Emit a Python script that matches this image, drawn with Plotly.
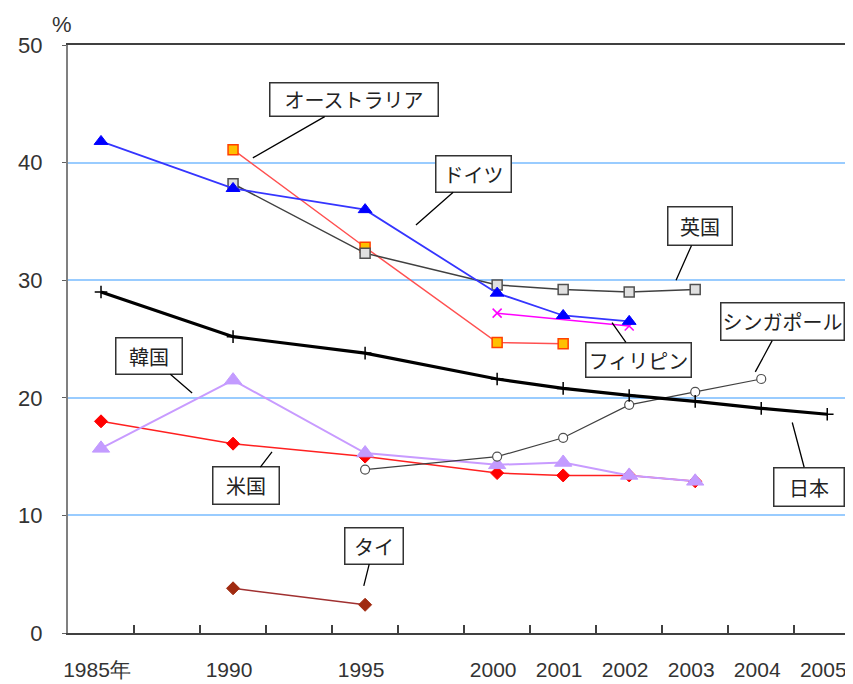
import plotly.graph_objects as go

# Category positions: 1985, (gap), 1990, (gap), 1995, (gap), 2000 .. 2005
tick_pos = [0, 2, 4, 6, 7, 8, 9, 10, 11]
tick_labels = ["1985年", "1990", "1995", "2000", "2001", "2002", "2003", "2004", "2005"]
boundaries = [0.5, 1.5, 2.5, 3.5, 4.5, 5.5, 6.5, 7.5, 8.5, 9.5, 10.5]

germany_x = [0, 2, 4, 6, 7, 8]
germany_y = [41.8, 37.8, 36.0, 28.9, 27.0, 26.5]

uk_x = [2, 4, 6, 7, 8, 9]
uk_y = [38.2, 32.3, 29.6, 29.2, 29.0, 29.2]

australia_x = [2, 4, 6, 7]
australia_y = [41.1, 32.8, 24.7, 24.6]

philippines_x = [6, 8]
philippines_y = [27.2, 26.1]

japan_x = [0, 2, 4, 6, 7, 8, 9, 10, 11]
japan_y = [29.0, 25.2, 23.8, 21.6, 20.8, 20.2, 19.7, 19.1, 18.6]

singapore_x = [4, 6, 7, 8, 9, 10]
singapore_y = [13.9, 15.0, 16.6, 19.4, 20.5, 21.6]

korea_x = [0, 2, 4, 6, 7, 8, 9]
korea_y = [15.7, 21.5, 15.3, 14.3, 14.5, 13.4, 12.9]

usa_x = [0, 2, 4, 6, 7, 8, 9]
usa_y = [18.0, 16.1, 15.0, 13.6, 13.4, 13.4, 12.9]

thai_x = [2, 4]
thai_y = [3.8, 2.4]

fig = go.Figure()

def add(x, y, lcolor, lwidth, symbol, msize, mcolor, mline, mlw=1):
    fig.add_trace(go.Scatter(
        x=x, y=y, mode="lines+markers",
        line=dict(color=lcolor, width=lwidth),
        marker=dict(symbol=symbol, size=msize, color=mcolor,
                    line=dict(color=mline, width=mlw)),
        showlegend=False, hoverinfo="skip"))

add(usa_x, usa_y, "#FF2020", 1.5, "diamond", 10, "#FF0000", "#FF0000")
add(korea_x, korea_y, "#C89BFF", 2, "triangle-up", 15, "#C39BFF", "#C39BFF")
add(singapore_x, singapore_y, "#404040", 1.2, "circle", 9, "#FFFFFF", "#505050", 1.2)
add(japan_x, japan_y, "#000000", 3.2, "cross-thin", 9, "#000000", "#000000", 1.5)
add(philippines_x, philippines_y, "#FF00FF", 1.5, "x-thin", 9, "#FF00FF", "#FF00FF", 1.5)
add(australia_x, australia_y, "#FF5050", 1.5, "square", 10, "#FFC000", "#FF4000", 1.5)
add(uk_x, uk_y, "#404040", 1.5, "square", 10, "#E0E0E0", "#505050", 1.5)
add(germany_x, germany_y, "#3535FF", 1.8, "triangle-up", 12, "#0000FF", "#0000FF")
add(thai_x, thai_y, "#A03030", 1.5, "diamond", 10, "#A02A10", "#A02A10")

# text, tip x, tip y, offset x, offset y, box width, box height
callouts = [
    ("オーストラリア", 2.30, 40.4, 101, -58, 170, 35),
    ("ドイツ", 4.77, 34.7, 58, -51, 77, 38),
    ("英国", 8.71, 30.0, 24, -54, 66, 40),
    ("フィリピン", 7.74, 26.4, 26, 37, 107, 36),
    ("シンガポール", 9.91, 22.2, 27, -50, 125, 39),
    ("韓国", 1.38, 20.4, -43, -37, 68, 38),
    ("米国", 2.59, 15.4, -26, 34, 68, 39),
    ("日本", 10.47, 17.9, 17, 64, 72, 40),
    ("タイ", 3.98, 4.0, 10, -40, 60, 38),
]
for text, x, y, ax, ay, w, h in callouts:
    fig.add_annotation(
        x=x, y=y, xref="x", yref="y", text=text, ax=ax, ay=ay,
        width=w - 3, height=h - 3, align="center", valign="middle",
        showarrow=True, arrowhead=0, arrowwidth=1.3, arrowcolor="#000000",
        font=dict(family="Noto Sans CJK JP", size=20, color="#222222"),
        bgcolor="#FFFFFF", bordercolor="#333333", borderwidth=1.5, borderpad=0)

fig.add_annotation(x=-0.0076, y=1.0, xref="paper", yref="paper", text="%",
                   showarrow=False, xanchor="center", yanchor="middle", yshift=21,
                   font=dict(family="Liberation Sans", size=22, color="#333333"))

# page body has an 8px margin, so the figure is sized/margined to compensate
fig.update_layout(
    width=845, height=676,
    margin=dict(l=60, r=0, t=37, b=51),
    plot_bgcolor="#FFFFFF", paper_bgcolor="#FFFFFF",
    xaxis=dict(
        range=[-0.5, 11.39], tickmode="array", tickvals=tick_pos, ticktext=tick_labels,
        ticks="", showgrid=False, zeroline=False, automargin=False,
        showline=True, linecolor="#404040", linewidth=1.5, mirror=True,
        tickfont=dict(family="Liberation Sans", size=21, color="#333333"),
        ticklabelstandoff=17, ticklabelshift=-4,
        minor=dict(tickvals=boundaries, ticks="inside", ticklen=8, tickcolor="#404040",
                   tickwidth=1.5, showgrid=False),
    ),
    yaxis=dict(
        range=[0, 50], tickvals=[0, 10, 20, 30, 40, 50],
        ticks="outside", ticklen=4, tickcolor="#606060", automargin=False,
        showgrid=True, gridcolor="#99CCFF", gridwidth=1.5, zeroline=False,
        showline=True, linecolor="#808080", linewidth=2,
        tickfont=dict(family="Liberation Sans", size=22, color="#333333"),
        ticklabelstandoff=15,
    ),
)

fig.write_html("out.html")
